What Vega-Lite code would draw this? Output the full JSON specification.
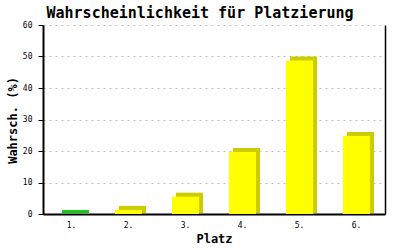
{
  "$schema": "https://vega.github.io/schema/vega-lite/v6.json",
  "width": 342,
  "height": 189,
  "autosize": {"type": "none"},
  "padding": {"left": 43, "top": 25, "right": 15, "bottom": 36},
  "background": "white",
  "title": {
    "text": "Wahrscheinlichkeit für Platzierung",
    "font": "DejaVu Sans Mono",
    "fontSize": 15,
    "fontWeight": "bold",
    "color": "black",
    "anchor": "middle",
    "dx": -14,
    "offset": 0
  },
  "data": {
    "values": [
      {"Platz": "1.", "p": 0},
      {"Platz": "2.", "p": 1.3},
      {"Platz": "3.", "p": 5.5},
      {"Platz": "4.", "p": 19.7},
      {"Platz": "5.", "p": 48.7},
      {"Platz": "6.", "p": 24.8}
    ]
  },
  "config": {
    "view": {"stroke": null},
    "axis": {
      "labelFont": "DejaVu Sans Mono",
      "labelFontSize": 8,
      "labelColor": "black",
      "titleFont": "DejaVu Sans Mono",
      "titleFontSize": 12,
      "titleFontWeight": "bold",
      "titleColor": "black",
      "domainColor": "black",
      "tickColor": "black"
    }
  },
  "encoding": {
    "x": {
      "field": "Platz",
      "type": "nominal",
      "scale": {"paddingInner": 0, "paddingOuter": 0},
      "axis": {
        "labelAngle": 0,
        "ticks": false,
        "labelPadding": 7,
        "domainWidth": 2,
        "title": "Platz",
        "titleBaseline": "middle",
        "titleY": 24
      }
    }
  },
  "layer": [
    {
      "mark": {"type": "bar", "size": 27, "xOffset": 4, "x2Offset": 4, "yOffset": -4, "y2Offset": -1},
      "encoding": {
        "y": {
          "field": "p",
          "type": "quantitative",
          "stack": null,
          "scale": {"domain": [0, 60]},
          "axis": {
            "values": [0, 10, 20, 30, 40, 50, 60],
            "title": "Wahrsch. (%)",
            "titleAngle": -90,
            "titleAlign": "center",
            "titleBaseline": "middle",
            "titleX": -31,
            "titleY": 95,
            "tickSize": 5,
            "labelPadding": 6,
            "domainWidth": 2,
            "grid": true,
            "gridColor": "#bbbbbb",
            "gridDash": [2, 4],
            "gridWidth": 1
          }
        },
        "y2": {"datum": 0},
        "color": {
          "field": "Platz",
          "type": "nominal",
          "scale": {"domain": ["1.", "2.", "3.", "4.", "5.", "6."], "range": ["#11cc11", "#cccc00", "#cccc00", "#cccc00", "#cccc00", "#cccc00"]},
          "legend": null
        }
      }
    },
    {
      "mark": {"type": "bar", "size": 27},
      "encoding": {
        "y": {
          "field": "p",
          "type": "quantitative",
          "scale": {"domain": [0, 60]},
          "axis": {
            "orient": "right",
            "labels": false,
            "ticks": false,
            "grid": false,
            "title": null,
            "domainWidth": 1.5,
            "values": [0, 60]
          }
        },
        "color": {
          "field": "Platz",
          "type": "nominal",
          "scale": {"domain": ["1.", "2.", "3.", "4.", "5.", "6."], "range": ["#11cc11", "#ffff00", "#ffff00", "#ffff00", "#ffff00", "#ffff00"]},
          "legend": null
        }
      }
    }
  ],
  "resolve": {"axis": {"y": "independent"}, "scale": {"color": "independent"}}
}
